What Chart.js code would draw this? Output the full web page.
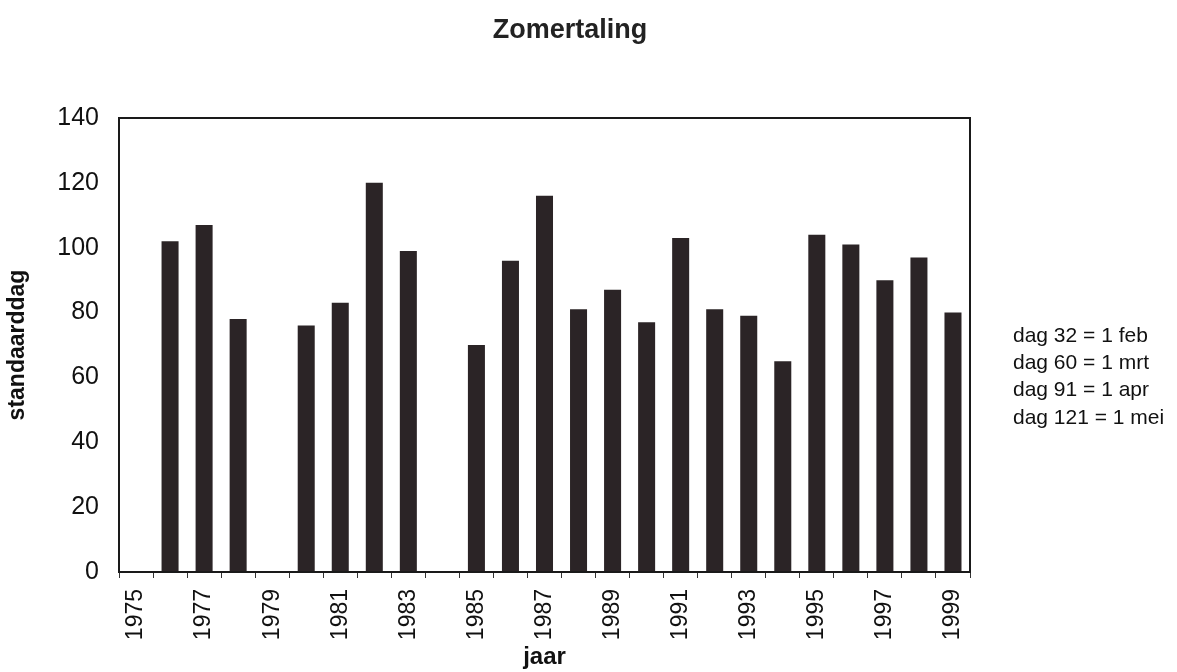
<!DOCTYPE html>
<html>
<head>
<meta charset="utf-8">
<script src="https://cdn.jsdelivr.net/npm/chart.js@4/dist/chart.umd.min.js"></script>
<style>
html,body{margin:0;padding:0;background:#fff;}
#wrap{width:1177px;height:672px;}
</style>
</head>
<body>
<div id="wrap"><canvas id="c" width="1177" height="672"></canvas></div>
<script>
const chartTitle = "Zomertaling";
const years = ["1975","1976","1977","1978","1979","1980","1981","1982","1983","1984","1985","1986","1987","1988","1989","1990","1991","1992","1993","1994","1995","1996","1997","1998","1999"];
const standaarddag = [null,102,107,78,null,76,83,120,99,null,70,96,116,81,87,77,103,81,79,65,104,101,90,97,80];
const yTicks = [0,20,40,60,80,100,120,140];
const xTitle = "jaar";
const yTitle = "standaarddag";
const noteLines = ["dag 32 = 1 feb","dag 60 = 1 mrt","dag 91 = 1 apr","dag 121 = 1 mei"];

Chart.defaults.font.family = "'Liberation Sans', Arial, Helvetica, sans-serif";
Chart.defaults.color = "#111";

const framePlugin = {
  id: 'frameAndText',
  afterDraw(chart) {
    const ctx = chart.ctx;
    const a = chart.chartArea;
    ctx.save();
    ctx.strokeStyle = '#1a1a1a';
    ctx.lineWidth = 2;
    ctx.strokeRect(a.left, a.top, a.right - a.left, a.bottom - a.top);
    ctx.fillStyle = '#222';
    ctx.font = "bold 27px 'Liberation Sans', Arial, sans-serif";
    ctx.textAlign = 'center';
    ctx.textBaseline = 'alphabetic';
    ctx.fillText(chartTitle, 570, 38);
    ctx.font = "21px 'Liberation Sans', Arial, sans-serif";
    ctx.textAlign = 'left';
    ctx.textBaseline = 'middle';
    ctx.fillStyle = '#111';
    noteLines.forEach((t, i) => ctx.fillText(t, 1013, 336 + i * 27.3));
    ctx.restore();
  }
};

new Chart(document.getElementById('c'), {
  type: 'bar',
  data: {
    labels: years,
    datasets: [{
      data: standaarddag,
      backgroundColor: '#2b2426',
      borderWidth: 0,
      barPercentage: 0.5,
      categoryPercentage: 1.0
    }]
  },
  options: {
    responsive: false,
    animation: false,
    layout: { padding: { top: 118, right: 207, left: 0, bottom: 0 } },
    plugins: { legend: { display: false }, tooltip: { enabled: false }, title: { display: false } },
    scales: {
      x: {
        grid: { display: true, offset: true, drawOnChartArea: false, drawTicks: true, tickLength: 6, color: '#333', lineWidth: 1 },
        border: { display: true, color: '#1a1a1a', width: 2 },
        ticks: {
          autoSkip: false, maxRotation: 90, minRotation: 90, padding: 11,
          font: { size: 23 },
          callback: function(v, i) { return i % 2 === 0 ? years[i] : ''; }
        },
        title: { display: true, text: xTitle, font: { size: 24, weight: 'bold' }, padding: { top: 0, bottom: 0 } },
        afterFit(s) { s.height = 100; }
      },
      y: {
        min: 0, max: 140,
        afterBuildTicks(s) { s.ticks = yTicks.map(v => ({ value: v })); },
        grid: { display: false },
        border: { display: true, color: '#1a1a1a', width: 2 },
        ticks: { padding: 12, font: { size: 25 } },
        title: { display: true, text: yTitle, font: { size: 23, weight: 'bold' }, padding: { top: 4, bottom: 0 } },
        afterFit(s) { s.width = 119; }
      }
    }
  },
  plugins: [framePlugin]
});
</script>
</body>
</html>
